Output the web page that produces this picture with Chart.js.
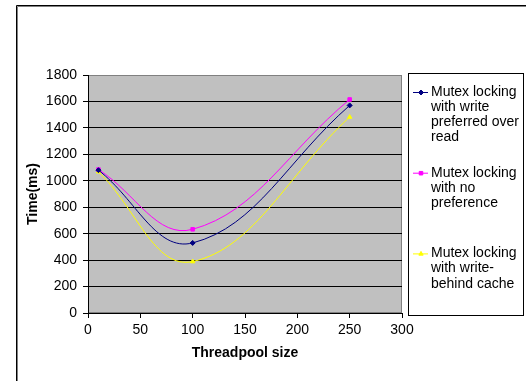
<!DOCTYPE html>
<html>
<head>
<meta charset="utf-8">
<script src="https://cdn.jsdelivr.net/npm/chart.js@4.4.0/dist/chart.umd.min.js"></script>
<style>
html, body { margin: 0; padding: 0; background: #fff; }
</style>
</head>
<body>
<canvas id="grafico" width="526" height="381"></canvas>
<script>
// Datos
const threadpool = [10, 100, 250];
const writePreferred = [1080, 530, 1570];
const noPreference = [1085, 633, 1615];
const writeBehind = [1068, 389, 1482];
const seriesNames = [
    ['Mutex locking', 'with write', 'preferred over', 'read'],
    ['Mutex locking', 'with no', 'preference'],
    ['Mutex locking', 'with write-', 'behind cache']
];
const xTicks = [0, 50, 100, 150, 200, 250, 300];
const yTicks = [0, 200, 400, 600, 800, 1000, 1200, 1400, 1600, 1800];

const FONT = "'Liberation Sans', Arial, sans-serif";
const colores = ['#000080', '#ff00ff', '#ffff00'];
const marcadores = ['rectRot', 'rect', 'triangle'];
const series = [writePreferred, noPreference, writeBehind];

// Fondo gris del area de trazado y marco exterior
const fondo = {
    id: 'fondo',
    beforeDraw(chart) {
        const { ctx, chartArea: a } = chart;
        ctx.save();
        ctx.strokeStyle = '#000';
        ctx.lineWidth = 1;
        ctx.beginPath();
        ctx.moveTo(16.5, 381);
        ctx.lineTo(16.5, 5.5);
        ctx.lineTo(526, 5.5);
        ctx.stroke();
        ctx.strokeStyle = '#808080';
        ctx.beginPath();
        ctx.moveTo(17.5, 381);
        ctx.lineTo(17.5, 6.5);
        ctx.lineTo(526, 6.5);
        ctx.stroke();

        ctx.fillStyle = '#c0c0c0';
        ctx.fillRect(a.left, a.top, a.right - a.left, a.bottom - a.top);
        ctx.strokeStyle = '#808080';
        ctx.strokeRect(a.left + 0.5, a.top + 0.5, a.right - a.left - 1, a.bottom - a.top - 1);
        ctx.restore();
    }
};

// Leyenda con varias lineas por serie
const leyenda = {
    id: 'leyenda',
    afterDraw(chart) {
        const ctx = chart.ctx;
        ctx.save();
        ctx.fillStyle = '#fff';
        ctx.fillRect(408, 73, 115, 242);
        ctx.strokeStyle = '#000';
        ctx.lineWidth = 1;
        ctx.strokeRect(408.5, 73.5, 115, 242);

        chart.data.datasets.forEach((ds, i) => {
            const y0 = 92 + i * 80.7;
            ctx.strokeStyle = ds.borderColor;
            ctx.lineWidth = 1;
            ctx.beginPath();
            ctx.moveTo(413, y0 + 0.5);
            ctx.lineTo(428, y0 + 0.5);
            ctx.stroke();
            ctx.fillStyle = ds.backgroundColor;
            Chart.helpers.drawPoint(ctx, { pointStyle: ds.pointStyle, radius: ds.pointRadius, rotation: 0, borderWidth: 1 }, 421, y0 + 0.5);

            ctx.fillStyle = '#000';
            ctx.font = '14px ' + FONT;
            ctx.textBaseline = 'middle';
            ctx.textAlign = 'left';
            seriesNames[i].forEach((linea, j) => {
                ctx.fillText(linea, 431, y0 + j * 15.2);
            });
        });
        ctx.restore();
    }
};

const ctx = document.getElementById('grafico').getContext('2d');
const chart = new Chart(ctx, {
    type: 'line',
    data: {
        datasets: series.map((valores, i) => ({
            label: seriesNames[i].join(' '),
            data: threadpool.map((x, k) => ({ x: x, y: valores[k] })),
            borderColor: colores[i],
            backgroundColor: colores[i],
            borderWidth: 1,
            pointStyle: marcadores[i],
            pointRadius: 2.5,
            pointBorderWidth: 1,
            tension: 0.4,
            fill: false
        }))
    },
    options: {
        responsive: false,
        animation: false,
        layout: {
            padding: { top: 75, right: 124, left: 0, bottom: 0 }
        },
        plugins: {
            legend: { display: false },
            tooltip: { enabled: false }
        },
        scales: {
            x: {
                type: 'linear',
                min: 0,
                max: 300,
                afterBuildTicks: (scale) => { scale.ticks = xTicks.map(v => ({ value: v })); },
                afterFit: (scale) => { scale.height = 68; },
                ticks: { color: '#000', padding: 4, font: { family: FONT, size: 14 }, callback: (v) => String(v) },
                grid: { drawOnChartArea: false, drawTicks: true, tickLength: 5, tickColor: '#000' },
                border: { color: '#000', width: 1 },
                title: {
                    display: true,
                    text: 'Threadpool size',
                    color: '#000',
                    font: { family: FONT, size: 14, weight: 'bold' },
                    padding: { top: 0, bottom: 19 }
                }
            },
            y: {
                min: 0,
                max: 1800,
                afterBuildTicks: (scale) => { scale.ticks = yTicks.map(v => ({ value: v })); },
                afterFit: (scale) => { scale.width = 88; },
                ticks: { color: '#000', padding: 6, font: { family: FONT, size: 14 }, callback: (v) => String(v) },
                grid: {
                    color: (c) => (c.tick && c.tick.value === 1800) ? '#808080' : '#000',
                    tickLength: 5,
                    tickColor: '#000'
                },
                border: { color: '#000', width: 1 },
                title: {
                    display: true,
                    text: 'Time(ms)',
                    color: '#000',
                    font: { family: FONT, size: 14, weight: 'bold' },
                    padding: { top: 25, bottom: 0 }
                }
            }
        }
    },
    plugins: [fondo, leyenda]
});
</script>
</body>
</html>
